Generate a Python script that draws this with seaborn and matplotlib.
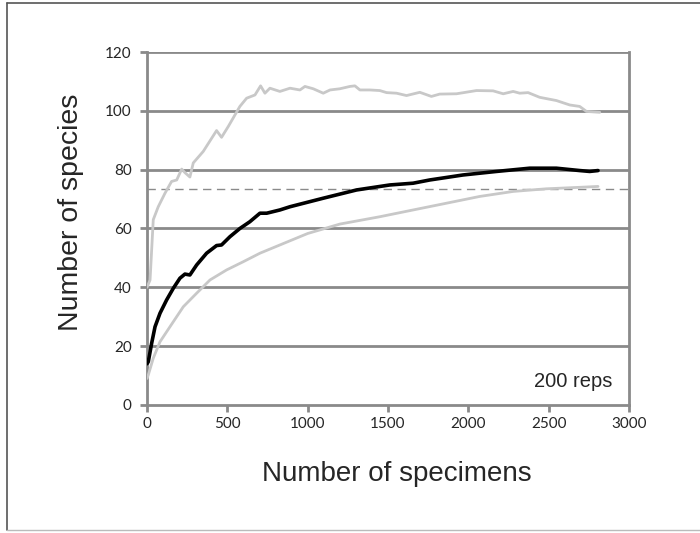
import numpy as np
import pandas as pd
import matplotlib
matplotlib.use("Agg")
import matplotlib.pyplot as plt
import seaborn as sns
from matplotlib.lines import Line2D

# values
upper_x = [0, 19, 39, 70, 112, 153, 185, 216, 236, 267, 288, 350, 433, 464, 506, 578, 620, 672, 707,
           734, 765, 827, 890, 952, 983, 1035, 1097, 1139, 1200, 1263, 1294, 1325, 1387, 1449, 1491,
           1553, 1615, 1698, 1770, 1822, 1926, 2051, 2154, 2217, 2279, 2320, 2372, 2444, 2548, 2631,
           2693, 2735, 2818]
upper_y = [40, 42.5, 63, 67.4, 72, 76, 76.5, 80.2, 79, 77.5, 82.3, 86.2, 93.3, 91, 94.7, 101.5, 104.3,
           105.4, 108.5, 106, 107.7, 106.6, 107.7, 107.1, 108.3, 107.5, 106, 107.1, 107.5, 108.3,
           108.5, 107.1, 107.1, 106.9, 106.2, 106, 105.2, 106.3, 104.9, 105.7, 105.8, 106.9, 106.8,
           105.8, 106.6, 106, 106.2, 104.6, 103.5, 102, 101.5, 99.8, 99.5]

mean_x = [0, 8, 29, 50, 81, 122, 164, 205, 236, 267, 309, 371, 433, 464, 516, 578, 640, 703, 745, 827,
          890, 1097, 1304, 1511, 1656, 1760, 1967, 2175, 2382, 2548, 2693, 2755, 2807]
mean_y = [14, 14.7, 21, 26.6, 31.2, 35.7, 39.7, 43.1, 44.5, 44.2, 47.6, 51.6, 54.2, 54.4, 57.2, 60,
          62.3, 65.2, 65.2, 66.3, 67.4, 70.3, 73.1, 74.8, 75.4, 76.5, 78.2, 79.4, 80.5, 80.5, 79.7,
          79.4, 79.7]

lower_x = [0, 8, 39, 81, 143, 226, 309, 392, 495, 599, 703, 827, 1000, 1200, 1449, 1656, 1864, 2071,
           2279, 2486, 2693, 2807]
lower_y = [9, 10.2, 15.9, 21.5, 26.6, 33.4, 38, 42.5, 45.9, 48.7, 51.6, 54.4, 58.3, 61.5, 64, 66.3,
           68.6, 70.9, 72.6, 73.5, 74, 74.3]

ref_level = 73.5
x_ticks = [0, 500, 1000, 1500, 2000, 2500, 3000]
y_ticks = [0, 20, 40, 60, 80, 100, 120]

upper = pd.DataFrame({"specimens": upper_x, "species": upper_y})
mean = pd.DataFrame({"specimens": mean_x, "species": mean_y})
lower = pd.DataFrame({"specimens": lower_x, "species": lower_y})

sns.set_style("white")
plt.rcParams["font.family"] = ["Liberation Sans", "DejaVu Sans"]

fig = plt.figure(figsize=(7, 5.33), dpi=100)
ax = fig.add_axes([0.21, 0.2402, 0.6886, 0.6622])

grid_col = "#8a8a8a"
for v in y_ticks[1:]:
    ax.axhline(v, color=grid_col, lw=2, zorder=1)
ax.axhline(ref_level, color="#8a8a8a", lw=1, ls=(0, (6, 4)), zorder=1)

sns.lineplot(data=upper, x="specimens", y="species", color="#c8c8c8", lw=2, ax=ax, zorder=3)
sns.lineplot(data=lower, x="specimens", y="species", color="#c8c8c8", lw=2, ax=ax, zorder=3)
sns.lineplot(data=mean, x="specimens", y="species", color="black", lw=2.6, ax=ax, zorder=4)

ax.set_xlim(0, 3000)
ax.set_ylim(0, 120)
ax.set_xticks(x_ticks)
ax.set_yticks(y_ticks)
ax.tick_params(axis="both", direction="out", length=5, width=2, color=grid_col,
               labelsize=11, bottom=True, left=True)
ax.tick_params(axis="x", pad=4)
ax.tick_params(axis="y", pad=6)
for lab in ax.get_xticklabels() + ax.get_yticklabels():
    lab.set_family(["Lato", "DejaVu Sans"])
for side in ["left", "bottom", "right"]:
    ax.spines[side].set_color(grid_col)
    ax.spines[side].set_linewidth(2)
ax.spines["top"].set_visible(False)

ax.set_xlabel("Number of specimens", fontsize=20)
ax.set_ylabel("Number of species", fontsize=20.5)
ax.xaxis.set_label_coords(0.519, -0.16)
ax.yaxis.set_label_coords(-0.13, 0.547)
ax.text(0.965, 0.04, "200 reps", transform=ax.transAxes, ha="right", va="bottom", fontsize=14.5)

# outer frame like the pasted figure
fig.add_artist(Line2D([0.01, 0.01], [0.005, 0.995], color="#555555", lw=1.2, transform=fig.transFigure))
fig.add_artist(Line2D([0.01, 1.0], [0.995, 0.995], color="#555555", lw=1.2, transform=fig.transFigure))
fig.add_artist(Line2D([0.01, 1.0], [0.006, 0.006], color="#bbbbbb", lw=1, transform=fig.transFigure))

fig.savefig("out.png", dpi=100, facecolor="white")
